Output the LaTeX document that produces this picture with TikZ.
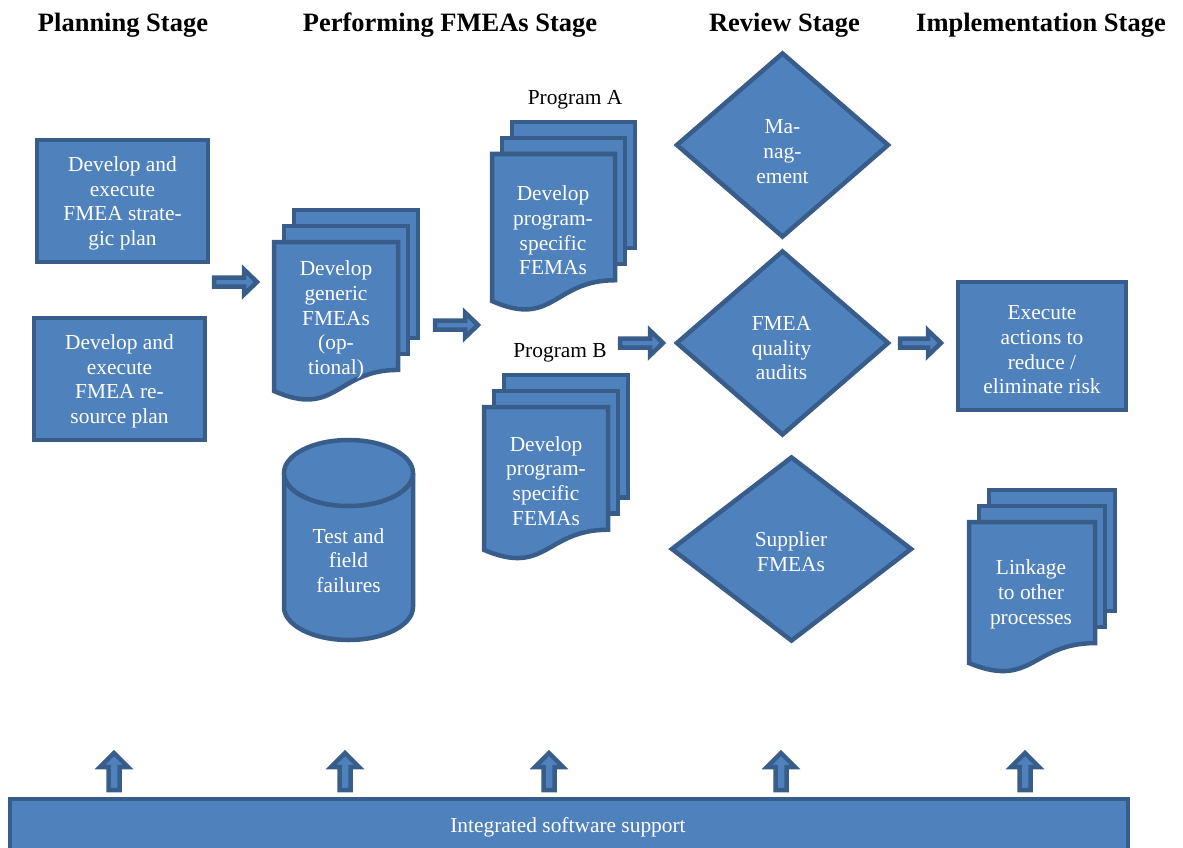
\documentclass[tikz,border=0pt]{standalone}
\usepackage{fontspec}
\setmainfont{Liberation Serif}
\usetikzlibrary{shapes.geometric}

\definecolor{shapefill}{HTML}{4F81BD}
\definecolor{shapeline}{HTML}{385D8A}

\newcommand\bodyfont{\fontsize{21.4}{24.7}\selectfont}
\newcommand\titlefont{\fontsize{26.5}{30}\selectfont\bfseries}

\tikzset{
  shapebox/.style={fill=shapefill, draw=shapeline, line width=4.5pt, line join=miter, inner sep=0pt},
  inlabel/.style={text=white, align=center, font=\bodyfont, inner sep=0pt, yshift=-2.5pt},
  outlabel/.style={text=black, font=\bodyfont, inner sep=0pt, anchor=base},
  stagetitle/.style={font=\titlefont, inner sep=0pt, anchor=base},
  blockarrow/.style={fill=shapefill, draw=shapeline, line width=4.5pt, line join=miter},
}

% one page of a document stack: left, top, width, height
\newcommand\docpage[4]{%
  \draw[shapebox] (#1,#2) -- (#1+#3,#2) -- (#1+#3,#2+0.802*#4)
    .. controls (#1+0.5*#3,#2+0.802*#4) and (#1+0.5*#3,#2+1.1075*#4) .. (#1,#2+0.934*#4) -- cycle;}
% stack of three pages; the front page is given
\newcommand\docstack[4]{%
  \draw[shapebox] (#1+20,#2-32) rectangle (#1+#3+20,#2-32+0.802*#4);
  \draw[shapebox] (#1+10,#2-16) rectangle (#1+#3+10,#2-16+0.802*#4);
  \docpage{#1}{#2}{#3}{#4}}
% block arrow pointing right: tail x, tip x, centre y
\newcommand\rightblock[3]{%
  \draw[blockarrow] (#1+2,#3-4.5) -- (#2-16,#3-4.5) -- (#2-16,#3-12.5) -- (#2-3,#3)
    -- (#2-16,#3+12.5) -- (#2-16,#3+4.5) -- (#1+2,#3+4.5) -- cycle;}
% block arrow pointing up: centre x
\newcommand\upblock[1]{%
  \draw[blockarrow] (#1-5.5,790) -- (#1-5.5,767) -- (#1-14,767) -- (#1,753)
    -- (#1+14,767) -- (#1+5.5,767) -- (#1+5.5,790) -- cycle;}

\begin{document}
\begin{tikzpicture}[x=1pt, y=-1pt]
\useasboundingbox (0,0) rectangle (1183,848);
\clip (0,0) rectangle (1183,848);

% stage titles
\node[stagetitle] (tplan) at (123,32) {Planning Stage};
\node[stagetitle] (tperf) at (450,32) {Performing FMEAs Stage};
\node[stagetitle] (trev)  at (784.5,32) {Review Stage};
\node[stagetitle] (timpl) at (1041,32) {Implementation Stage};

% planning stage
\node[shapebox, minimum width=171pt, minimum height=122pt] (strategic) at (122.5,201) {};
\node[inlabel] at (strategic) {Develop and\\execute\\FMEA strate-\\gic plan};
\node[shapebox, minimum width=171pt, minimum height=122pt] (resource) at (119.5,379) {};
\node[inlabel] at (resource) {Develop and\\execute\\FMEA re-\\source plan};
\rightblock{212}{260}{282}

% performing FMEAs stage
\docstack{274}{242}{124}{159.5}
\node[inlabel] (generic) at (336,317.6) {Develop\\generic\\FMEAs\\(op-\\tional)};
\rightblock{433}{481}{325}

\node[outlabel] (proga) at (575,105) {Program A};
\docstack{492}{154}{123}{157.4}
\node[inlabel] (speca) at (553,228) {Develop\\program-\\specific\\FEMAs};

\node[outlabel] (progb) at (560,357) {Program B};
\docstack{484}{407}{124}{153}
\node[inlabel] (specb) at (546,478.5) {Develop\\program-\\specific\\FEMAs};

% test and field failures store
\draw[shapebox] (284,473) -- (284,607) arc[start angle=180, end angle=0, x radius=64.5, y radius=33]
  -- (413,473) arc[start angle=0, end angle=180, x radius=64.5, y radius=33] -- cycle;
\draw[shapebox] (348.5,473) ellipse[x radius=64.5, y radius=33];
\node[inlabel] (failures) at (348.5,558) {Test and\\field\\failures};

\rightblock{618}{666}{343}

% review stage
\node[shapebox, diamond, minimum width=213pt, minimum height=185pt] (mgmt) at (782.5,145) {};
\node[inlabel] at (782.5,149) {Ma-\\nag-\\ement};
\node[shapebox, diamond, minimum width=213pt, minimum height=185pt] (audits) at (782.5,343) {};
\node[inlabel] at (781.5,345.7) {FMEA\\quality\\audits};
\node[shapebox, diamond, minimum width=241pt, minimum height=185pt] (supplier) at (791.5,549) {};
\node[inlabel] at (791,549.5) {Supplier\\FMEAs};

\rightblock{898}{944}{343}

% implementation stage
\node[shapebox, minimum width=168pt, minimum height=128pt] (execute) at (1042,346) {};
\node[inlabel] at (1042,347.5) {Execute\\actions to\\reduce /\\eliminate risk};
\docstack{969}{522}{126}{151}
\node[inlabel] (linkage) at (1031,592) {Linkage\\to other\\processes};

% software support
\foreach \ux in {114,345,549,781,1025} {\upblock{\ux}}
\node[shapebox, outer sep=0pt, minimum width=1118pt, minimum height=81pt, anchor=north west] (bar) at (10,799) {};
\node[inlabel] (software) at (568,825) {Integrated software support};
\end{tikzpicture}
\end{document}
